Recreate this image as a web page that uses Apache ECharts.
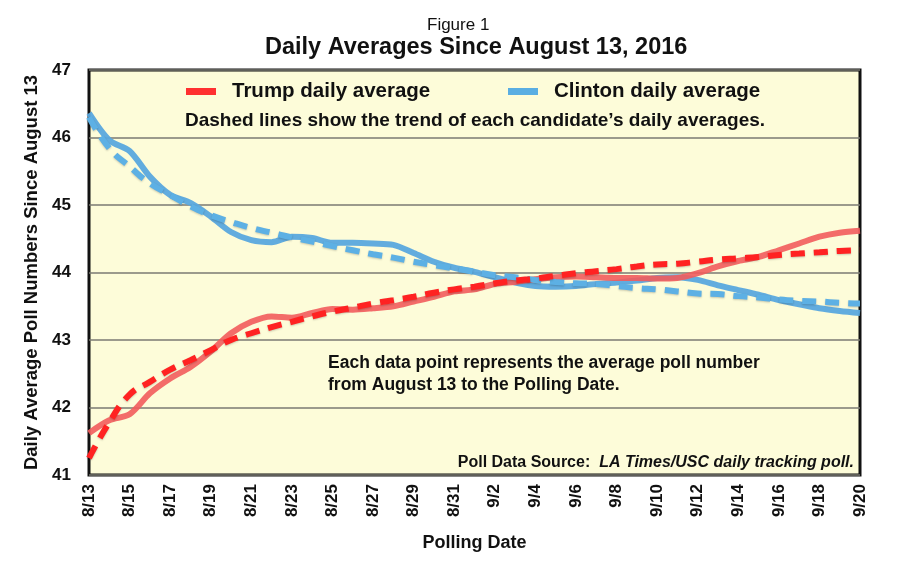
<!DOCTYPE html>
<html><head><meta charset="utf-8">
<script src="https://cdn.jsdelivr.net/npm/echarts@6/dist/echarts.min.js"></script>
<style>html,body{margin:0;padding:0;background:#fff}#c{width:906px;height:576px}</style>
</head><body><div id="c"></div>
<script>
const dates = ['8/13','8/14','8/15','8/16','8/17','8/18','8/19','8/20','8/21','8/22','8/23','8/24','8/25','8/26','8/27','8/28','8/29','8/30','8/31','9/1','9/2','9/3','9/4','9/5','9/6','9/7','9/8','9/9','9/10','9/11','9/12','9/13','9/14','9/15','9/16','9/17','9/18','9/19','9/20'];
const trumpDaily = [41.62,41.81,41.90,42.21,42.43,42.60,42.83,43.10,43.27,43.35,43.33,43.40,43.46,43.45,43.47,43.50,43.57,43.64,43.72,43.75,43.83,43.86,43.90,43.93,43.94,43.93,43.92,43.92,43.91,43.92,43.99,44.09,44.17,44.23,44.33,44.43,44.53,44.59,44.62];
const clintonDaily = [46.36,45.96,45.80,45.42,45.15,45.03,44.83,44.60,44.48,44.45,44.53,44.51,44.44,44.44,44.43,44.41,44.29,44.16,44.07,44.01,43.93,43.85,43.80,43.79,43.80,43.83,43.85,43.88,43.92,43.93,43.89,43.81,43.74,43.67,43.59,43.53,43.47,43.43,43.40];
const trumpTrend = [41.25,41.78,42.19,42.38,42.56,42.70,42.85,43.00,43.10,43.19,43.27,43.35,43.42,43.48,43.54,43.59,43.64,43.70,43.75,43.79,43.84,43.88,43.91,43.95,43.99,44.02,44.05,44.09,44.12,44.13,44.16,44.19,44.21,44.23,44.26,44.28,44.30,44.32,44.33];
const clintonTrend = [46.30,45.84,45.57,45.32,45.15,44.98,44.85,44.75,44.66,44.59,44.52,44.46,44.39,44.33,44.27,44.22,44.16,44.11,44.06,44.01,43.96,43.93,43.89,43.86,43.84,43.83,43.80,43.77,43.75,43.72,43.69,43.68,43.65,43.63,43.60,43.58,43.57,43.55,43.54];
const yTicks = [41,42,43,44,45,46,47];

const F = '"Liberation Sans", Arial, sans-serif';
const chart = echarts.init(document.getElementById('c'));
const legendText = {fontFamily: F, fontWeight: 'bold', fontSize: 20.5, color: '#111', padding: [0, 0, 0, 11]};
chart.setOption({
  backgroundColor: '#fff',
  animation: false,
  title: [
    {text: 'Figure 1', left: 427, top: 17, padding: 0, textStyle: {fontFamily: F, fontSize: 17, fontWeight: 'normal', color: '#111'}},
    {text: 'Daily Averages Since August 13, 2016', left: 265, top: 36, padding: 0, textStyle: {fontFamily: F, fontSize: 23.5, fontWeight: 'bold', color: '#111'}}
  ],
  legend: [
    {data: [{name: 'Trump daily average', itemStyle: {color: '#ff3030'}}], left: 186, top: 81, padding: 0, icon: 'rect', itemWidth: 30, itemHeight: 7, itemGap: 16, textStyle: legendText},
    {data: [{name: 'Clinton daily average', itemStyle: {color: '#5aaee2'}}], left: 508, top: 81, padding: 0, icon: 'rect', itemWidth: 30, itemHeight: 7, itemGap: 16, textStyle: legendText}
  ],
  grid: {left: 89, right: 46, top: 70, bottom: 101, show: true, backgroundColor: '#fdfcd9', borderColor: '#111', borderWidth: 3},
  xAxis: {
    type: 'category', data: dates, boundaryGap: false,
    axisLine: {show: false}, axisTick: {show: false},
    axisLabel: {rotate: 90, interval: 1, margin: 9, fontFamily: F, fontWeight: 'bold', fontSize: 17, color: '#111'},
    name: 'Polling Date', nameLocation: 'middle', nameGap: 59,
    nameTextStyle: {fontFamily: F, fontWeight: 'bold', fontSize: 18, color: '#111'}
  },
  yAxis: {
    type: 'value', min: 41, max: 47, interval: 1,
    axisLine: {show: false}, axisTick: {show: false},
    axisLabel: {margin: 18, fontFamily: F, fontWeight: 'bold', fontSize: 17, color: '#111',
      formatter: v => yTicks.includes(v) ? String(v) : ''},
    splitLine: {lineStyle: {color: '#7a7a72', width: 1.5}},
    name: 'Daily Average Poll Numbers Since August 13', nameLocation: 'middle', nameGap: 46,
    nameTextStyle: {fontFamily: F, fontWeight: 'bold', fontSize: 18.5, color: '#111'}
  },
  series: [
    {name: 'Clinton daily average', type: 'line', data: clintonDaily, smooth: 0.3, symbol: 'none',
      lineStyle: {color: '#5aa8de', width: 6, opacity: 0.95}, itemStyle: {color: '#5aaee2'}, z: 2},
    {name: 'Trump daily average', type: 'line', data: trumpDaily, smooth: 0.3, symbol: 'none',
      lineStyle: {color: '#f25c5c', width: 6, opacity: 0.9}, itemStyle: {color: '#ff3030'}, z: 2},
    {name: 'Clinton trend', type: 'line', data: clintonTrend, smooth: true, symbol: 'none',
      lineStyle: {color: '#5db0e4', width: 6, type: [14, 9], shadowColor: 'rgba(0,0,0,0.2)', shadowBlur: 2, shadowOffsetY: 1}, z: 3},
    {name: 'Trump trend', type: 'line', data: trumpTrend, smooth: true, symbol: 'none',
      lineStyle: {color: '#ff2222', width: 6, type: [14, 9], shadowColor: 'rgba(0,0,0,0.2)', shadowBlur: 2, shadowOffsetY: 1}, z: 3}
  ],
  graphic: [
    {type: 'text', left: 185, top: 111, style: {text: 'Dashed lines show the trend of each candidate\u2019s daily averages.', font: 'bold 19px ' + F, fill: '#111'}, z: 10},
    {type: 'text', left: 328, top: 352, style: {text: 'Each data point represents the average poll number\nfrom August 13 to the Polling Date.', font: 'bold 17.5px ' + F, lineHeight: 22, fill: '#111'}, z: 10},
    {type: 'text', right: 52, top: 455, style: {rich: {a: {font: 'bold 16px ' + F, fill: '#111'}, b: {font: 'italic bold 16px ' + F, fill: '#111'}}, text: '{a|Poll Data Source:  }{b|LA Times/USC daily tracking poll.}'}, z: 10}
  ]
});
</script></body></html>
